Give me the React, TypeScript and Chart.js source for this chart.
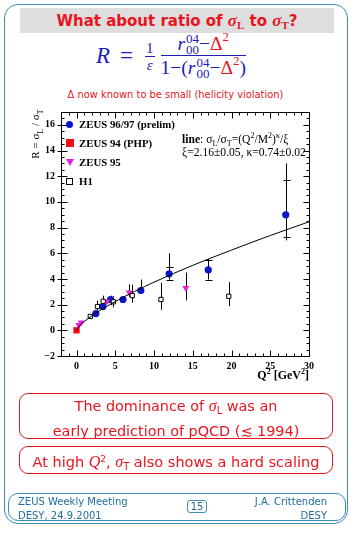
import React, { useEffect, useRef } from "react";
import { Chart, registerables } from "chart.js";

Chart.register(...registerables);

// ---- data ----
const zeusQ2 = [2.5, 3.4, 4.4, 6.0, 8.3, 11.95, 17.0, 27.0];
const zeusR = [1.3, 1.85, 2.4, 2.4, 3.1, 4.4, 4.7, 9.0];
const zeusLo = [1.15, 1.6, 1.95, 2.25, 2.9, 3.95, 3.95, 7.0];
const zeusHi = [1.45, 2.1, 2.7, 2.6, 3.95, 6.0, 5.55, 13.0];
const zeusTickLo = [null, null, null, null, null, 3.95, 3.95, 7.25];
const zeusTickHi = [null, null, null, null, null, 4.9, 5.5, 11.7];

const php94Q2 = [0.0];
const php94R = [0.0];

const z95Q2 = [0.3, 0.6, 3.9, 6.8, 14.1];
const z95R = [0.42, 0.6, 2.25, 2.95, 3.3];
const z95Lo = [0.32, 0.5, 2.05, 2.6, 2.33];
const z95Hi = [0.52, 0.7, 2.45, 3.58, 4.5];

const h1Q2 = [1.78, 2.7, 3.44, 4.75, 7.2, 10.9, 19.65];
const h1R = [1.08, 1.85, 2.26, 2.22, 2.7, 2.4, 2.65];
const h1Lo = [0.98, 1.55, 1.9, 1.8, 2.15, 1.6, 1.87];
const h1Hi = [1.18, 2.3, 2.7, 2.65, 3.55, 3.7, 3.75];

const fitQ2 = [0, 0.25, 0.5, 1, 2, 3, 5, 7.5, 10, 15, 20, 25, 30];
const fitR = [0, 0.24, 0.41, 0.68, 1.14, 1.54, 2.24, 3.03, 3.75, 5.06, 6.25, 7.38, 8.45];

const xTickLabels = [0, 5, 10, 15, 20, 25, 30];
const yTickLabels = [-2, 0, 2, 4, 6, 8, 10, 12, 14, 16];

const RED = "#e8141e";
const BLUE_F = "#1c1cb8";
const TEAL = "#3f8db6";
const TEAL_TXT = "#1d6e9c";

const pts = (xs: number[], ys: number[]) => xs.map((x, i) => ({ x, y: ys[i] }));

const errorBars = [
  { xs: zeusQ2, lo: zeusLo, hi: zeusHi, tlo: zeusTickLo, thi: zeusTickHi },
  { xs: z95Q2, lo: z95Lo, hi: z95Hi, tlo: [], thi: [] },
  { xs: h1Q2, lo: h1Lo, hi: h1Hi, tlo: [], thi: [] },
];

const framePlugin = {
  id: "frameTicks",
  beforeDatasetsDraw(chart: any) {
    const { ctx, scales } = chart;
    const xs = scales.x;
    const ys = scales.y;
    ctx.save();
    ctx.strokeStyle = "#000";
    ctx.lineWidth = 1;
    errorBars.forEach((s) => {
      s.xs.forEach((xv, i) => {
        const px = Math.round(xs.getPixelForValue(xv)) + 0.5;
        ctx.beginPath();
        ctx.moveTo(px, ys.getPixelForValue(s.lo[i]));
        ctx.lineTo(px, ys.getPixelForValue(s.hi[i]));
        ctx.stroke();
        [s.tlo[i], s.thi[i]].forEach((t: any) => {
          if (t === null || t === undefined) return;
          const py = Math.round(ys.getPixelForValue(t)) + 0.5;
          ctx.beginPath();
          ctx.moveTo(px - 3, py);
          ctx.lineTo(px + 4, py);
          ctx.stroke();
        });
      });
    });
    ctx.restore();
  },
  afterDraw(chart: any) {
    const { ctx, chartArea: a, scales } = chart;
    const xs = scales.x;
    const ys = scales.y;
    ctx.save();
    ctx.strokeStyle = "#000";
    ctx.lineWidth = 1;
    const L = Math.round(a.left) + 0.5;
    const R = Math.round(a.right) + 0.5;
    const T = Math.round(a.top) + 0.5;
    const B = Math.round(a.bottom) + 0.5;
    ctx.strokeRect(L, T, R - L, B - T);
    ctx.beginPath();
    for (let v = -2; v <= 30.001; v += 1) {
      const px = Math.round(xs.getPixelForValue(v)) + 0.5;
      const major = Math.abs(v % 5) < 1e-6;
      const len = major ? 6 : 3;
      ctx.moveTo(px, B);
      ctx.lineTo(px, B - len);
      ctx.moveTo(px, T);
      ctx.lineTo(px, T + len);
    }
    for (let v = -2; v <= 17.001; v += 0.5) {
      const py = Math.round(ys.getPixelForValue(v)) + 0.5;
      const major = Math.abs(v % 2) < 1e-6;
      const len = major ? 6 : 3;
      ctx.moveTo(L - (major ? 4 : 0), py);
      ctx.lineTo(L + len, py);
      ctx.moveTo(R, py);
      ctx.lineTo(R - len, py);
    }
    ctx.stroke();
    ctx.restore();
  },
};

function PlotChart() {
  const ref = useRef<HTMLCanvasElement | null>(null);
  useEffect(() => {
    if (!ref.current) return;
    const chart = new Chart(ref.current, {
      type: "scatter",
      data: {
        datasets: [
          {
            type: "line",
            label: "fit",
            data: pts(fitQ2, fitR),
            borderColor: "#000",
            borderWidth: 1,
            pointRadius: 0,
            showLine: true,
            fill: false,
            cubicInterpolationMode: "monotone",
          } as any,
          {
            label: "H1",
            data: pts(h1Q2, h1R),
            pointStyle: "rect",
            pointRadius: 3,
            backgroundColor: "#fff",
            borderColor: "#000",
            borderWidth: 1,
          },
          {
            label: "ZEUS 95",
            data: pts(z95Q2, z95R),
            pointStyle: "triangle",
            rotation: 180,
            pointRadius: 4,
            backgroundColor: "#e51fe0",
            borderColor: "#e51fe0",
            borderWidth: 0,
          } as any,
          {
            label: "ZEUS 94 (PHP)",
            data: pts(php94Q2, php94R),
            pointStyle: "rect",
            pointRadius: 4.5,
            backgroundColor: "#f01010",
            borderColor: "#f01010",
            borderWidth: 0,
          },
          {
            label: "ZEUS 96/97 (prelim)",
            data: pts(zeusQ2, zeusR),
            pointStyle: "circle",
            pointRadius: 3.6,
            backgroundColor: "#0b16c8",
            borderColor: "#0b16c8",
            borderWidth: 0,
          },
        ],
      },
      options: {
        animation: false,
        responsive: false,
        events: [],
        layout: { padding: { top: 10, right: 11, left: 0, bottom: 0 } },
        plugins: { legend: { display: false }, tooltip: { enabled: false } },
        scales: {
          x: {
            type: "linear",
            min: -2,
            max: 30,
            grid: { display: false, drawTicks: false },
            border: { display: false },
            afterFit: (s: any) => {
              s.height = 34;
            },
            ticks: {
              stepSize: 5,
              includeBounds: false,
              autoSkip: false,
              maxRotation: 0,
              padding: 4,
              color: "#000",
              font: { family: "Liberation Serif", size: 10, weight: "bold" },
              callback: (v: any) => (xTickLabels.includes(v) ? String(v) : ""),
            },
          },
          y: {
            type: "linear",
            min: -2,
            max: 17,
            grid: { display: false, drawTicks: false },
            border: { display: false },
            afterFit: (s: any) => {
              s.width = 41;
            },
            ticks: {
              stepSize: 2,
              includeBounds: false,
              autoSkip: false,
              padding: 6,
              color: "#000",
              font: { family: "Liberation Serif", size: 10, weight: "bold" },
              callback: (v: any) =>
                yTickLabels.includes(v) ? String(v).replace("-", "\u2212") : "",
            },
          },
        },
      },
      plugins: [framePlugin],
    } as any);
    return () => chart.destroy();
  }, []);
  return (
    <canvas
      ref={ref}
      width={300}
      height={290}
      style={{ position: "absolute", left: 20, top: 100, width: 300, height: 290 }}
    />
  );
}

const abs = (l: number, t: number, extra: any = {}) => ({
  position: "absolute" as const,
  left: l,
  top: t,
  ...extra,
});

function RSym() {
  return (
    <span style={{ display: "inline-flex", alignItems: "center" }}>
      <span style={{ fontStyle: "italic" }}>r</span>
      <span
        style={{
          display: "inline-flex",
          flexDirection: "column",
          fontSize: 13,
          lineHeight: "11px",
          marginLeft: 1,
        }}
      >
        <span>04</span>
        <span>00</span>
      </span>
    </span>
  );
}

function Delta2() {
  return (
    <span style={{ color: RED, display: "inline-flex", alignItems: "flex-start" }}>
      Δ<span style={{ fontSize: 13, lineHeight: "13px", marginTop: -4 }}>2</span>
    </span>
  );
}

const legendItems = [
  { label: "ZEUS 96/97 (prelim)", kind: "circle", color: "#0b16c8", y: 124 },
  { label: "ZEUS 94 (PHP)", kind: "square", color: "#f01010", y: 143 },
  { label: "ZEUS 95", kind: "tri", color: "#e51fe0", y: 162 },
  { label: "H1", kind: "open", color: "#000", y: 181 },
];

function Marker({ kind, color }: { kind: string; color: string }) {
  if (kind === "circle")
    return <span style={{ display: "block", width: 7, height: 7, borderRadius: 4, background: color }} />;
  if (kind === "square") return <span style={{ display: "block", width: 8, height: 8, background: color }} />;
  if (kind === "tri")
    return (
      <span
        style={{
          display: "block",
          width: 0,
          height: 0,
          borderLeft: "4px solid transparent",
          borderRight: "4px solid transparent",
          borderTop: `7px solid ${color}`,
        }}
      />
    );
  return <span style={{ display: "block", width: 5, height: 5, border: "1px solid #000", background: "#fff" }} />;
}

export default function App() {
  const sans = "'DejaVu Sans', 'Liberation Sans', sans-serif";
  const serif = "'Liberation Serif', 'Times New Roman', serif";
  const sig = { fontFamily: serif, fontStyle: "italic" as const };
  return (
    <div
      style={{
        position: "absolute",
        left: 0,
        top: 0,
        width: 363,
        height: 535,
        background: "#fff",
        overflow: "hidden",
      }}
    >
      {/* outer frame */}
      <div
        style={abs(4, 4, {
          width: 344,
          height: 520,
          border: `1.5px solid ${TEAL}`,
          borderRadius: 14,
          boxSizing: "border-box",
        })}
      />
      {/* title bar */}
      <div
        style={abs(20, 8, {
          width: 314,
          height: 25,
          background: "#dedede",
          color: RED,
          fontFamily: sans,
          fontWeight: "bold",
          fontSize: 15,
          lineHeight: "25px",
          textAlign: "center",
          whiteSpace: "nowrap",
        })}
      >
        What about ratio of <span style={{ ...sig, fontSize: 17 }}>σ</span>
        <sub style={{ fontFamily: serif, fontSize: 11, verticalAlign: "-3px" }}>L</sub> to{" "}
        <span style={{ ...sig, fontSize: 17 }}>σ</span>
        <sub style={{ fontFamily: serif, fontSize: 11, verticalAlign: "-3px" }}>T</sub>?
      </div>
      {/* formula */}
      <div
        style={abs(96, 36, {
          display: "flex",
          alignItems: "center",
          color: BLUE_F,
          fontFamily: serif,
          fontSize: 19,
          height: 40,
          whiteSpace: "nowrap",
        })}
      >
        <span style={{ fontStyle: "italic", fontSize: 23 }}>R</span>
        <span style={{ fontSize: 23, margin: "0 12px 0 10px" }}>=</span>
        <span
          style={{
            display: "inline-flex",
            flexDirection: "column",
            alignItems: "center",
            fontSize: 15,
            lineHeight: "16px",
            marginRight: 6,
          }}
        >
          <span style={{ borderBottom: `1px solid ${BLUE_F}`, padding: "0 1px" }}>1</span>
          <span style={{ fontStyle: "italic" }}>ε</span>
        </span>
        <span
          style={{
            display: "inline-flex",
            flexDirection: "column",
            alignItems: "center",
            fontSize: 19.5,
            lineHeight: "20px",
          }}
        >
          <span style={{ display: "flex", alignItems: "center", paddingBottom: 0 }}>
            <RSym />−<Delta2 />
          </span>
          <span
            style={{
              display: "flex",
              alignItems: "center",
              borderTop: `1px solid ${BLUE_F}`,
              paddingTop: 1,
            }}
          >
            1−(<RSym />−<Delta2 />)
          </span>
        </span>
      </div>
      {/* helicity note */}
      <div
        style={abs(0, 89, {
          width: 351,
          textAlign: "center",
          color: RED,
          fontFamily: sans,
          fontSize: 9.9,
          whiteSpace: "nowrap",
        })}
      >
        Δ now known to be small (helicity violation)
      </div>

      <PlotChart />

      {/* legend */}
      {legendItems.map((it) => (
        <div key={it.label} style={abs(65, it.y - 7, { display: "flex", alignItems: "center", height: 14 })}>
          <span style={{ width: 9, display: "flex", justifyContent: "center" }}>
            <Marker kind={it.kind} color={it.color} />
          </span>
          <span
            style={{
              marginLeft: 5,
              fontFamily: serif,
              fontWeight: "bold",
              fontSize: 10.8,
              color: "#000",
              whiteSpace: "nowrap",
            }}
          >
            {it.label}
          </span>
        </div>
      ))}
      {/* fit annotation */}
      <div style={abs(182, 131, { fontFamily: serif, fontSize: 11.6, color: "#000", whiteSpace: "nowrap" })}>
        <b>line</b>: σ<sub style={{ fontSize: 8 }}>L</sub>/σ<sub style={{ fontSize: 8 }}>T</sub>=(Q
        <sup style={{ fontSize: 8 }}>2</sup>/M<sup style={{ fontSize: 8 }}>2</sup>)
        <sup style={{ fontSize: 8 }}>κ</sup>/ξ
      </div>
      <div style={abs(182, 146, { fontFamily: serif, fontSize: 11.6, color: "#000", whiteSpace: "nowrap" })}>
        ξ=2.16±0.05, κ=0.74±0.02
      </div>
      {/* y title */}
      <div
        style={abs(37, 134, {
          transform: "translate(-50%, -50%) rotate(-90deg)",
          fontFamily: serif,
          fontSize: 11,
          whiteSpace: "nowrap",
          color: "#000",
        })}
      >
        R = σ<sub style={{ fontSize: 8 }}>L</sub> / σ<sub style={{ fontSize: 8 }}>T</sub>
      </div>
      {/* x title */}
      <div
        style={abs(0, 367, {
          width: 309,
          textAlign: "right",
          fontFamily: serif,
          fontWeight: "bold",
          fontSize: 12,
          color: "#000",
          whiteSpace: "nowrap",
        })}
      >
        Q<sup style={{ fontSize: 8 }}>2</sup> [GeV<sup style={{ fontSize: 8 }}>2</sup>]
      </div>

      {/* red box 1 */}
      <div
        style={abs(19, 393, {
          width: 314,
          height: 46,
          border: `1.5px solid ${RED}`,
          borderRadius: 9,
          boxSizing: "border-box",
          color: RED,
          fontFamily: sans,
          fontSize: 14.4,
          lineHeight: "21px",
          textAlign: "center",
          paddingTop: 1,
          whiteSpace: "nowrap",
        })}
      >
        <div>
          The dominance of <span style={{ ...sig, fontSize: 16 }}>σ</span>
          <sub style={{ fontSize: 10, verticalAlign: "-3px" }}>L</sub> was an
        </div>
        <div>early prediction of pQCD (≲ 1994)</div>
      </div>
      {/* red box 2 */}
      <div
        style={abs(19, 446, {
          width: 314,
          height: 28,
          border: `1.5px solid ${RED}`,
          borderRadius: 9,
          boxSizing: "border-box",
          color: RED,
          fontFamily: sans,
          fontSize: 14.5,
          lineHeight: "25px",
          textAlign: "center",
          whiteSpace: "nowrap",
        })}
      >
        At high <span style={{ ...sig, fontSize: 16 }}>Q</span>
        <sup style={{ fontSize: 9, verticalAlign: "5px" }}>2</sup>,{" "}
        <span style={{ ...sig, fontSize: 16 }}>σ</span>
        <sub style={{ fontSize: 10, verticalAlign: "-3px" }}>T</sub> also shows a hard scaling
      </div>

      {/* footer */}
      <div
        style={abs(8, 493, {
          width: 338,
          height: 28,
          border: `1.5px solid ${TEAL}`,
          borderRadius: 10,
          boxSizing: "border-box",
        })}
      />
      <div style={abs(18, 495, { fontFamily: sans, fontSize: 10, lineHeight: "14px", color: TEAL_TXT, whiteSpace: "nowrap" })}>
        <div>ZEUS Weekly Meeting</div>
        <div>DESY, 24.9.2001</div>
      </div>
      <div
        style={abs(187, 500, {
          width: 20,
          height: 13,
          border: `1px solid ${TEAL}`,
          borderRadius: 3,
          boxSizing: "border-box",
          fontFamily: sans,
          fontSize: 10,
          lineHeight: "11px",
          textAlign: "center",
          color: TEAL_TXT,
        })}
      >
        15
      </div>
      <div
        style={abs(200, 495, {
          width: 127,
          textAlign: "right",
          fontFamily: sans,
          fontSize: 10,
          lineHeight: "14px",
          color: TEAL_TXT,
          whiteSpace: "nowrap",
        })}
      >
        <div>J.A. Crittenden</div>
        <div>DESY</div>
      </div>
    </div>
  );
}
